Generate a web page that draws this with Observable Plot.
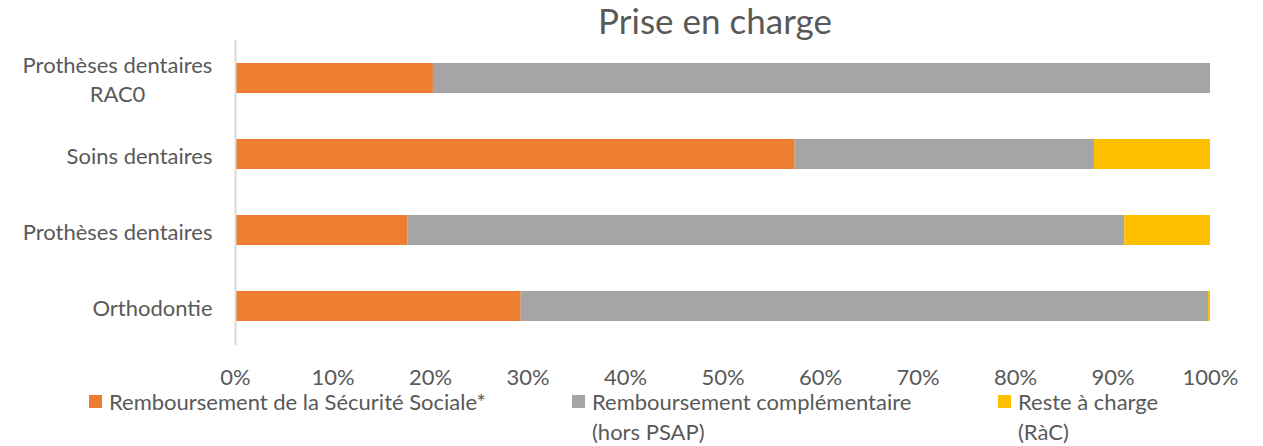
<!DOCTYPE html>
<html>
<head>
<meta charset="utf-8">
<script src="https://cdn.jsdelivr.net/npm/d3@7"></script>
<script src="https://cdn.jsdelivr.net/npm/@observablehq/plot@0.6"></script>
<style>
  html, body { margin: 0; padding: 0; background: #fff; overflow: hidden; }
  body { width: 1263px; height: 446px; position: relative; font-family: Lato, sans-serif; color: #595959; }
  #title { position: absolute; left: 0; top: 0; width: 1430px; height: 40px; line-height: 40px; text-align: center; font-size: 35px; }
  #chart { position: absolute; left: 0; top: 40px; }
  #legend { position: absolute; left: 89px; top: 387px; display: flex; font-size: 22px; line-height: 30px; }
  .item { display: flex; align-items: flex-start; }
  .sw { width: 13px; height: 13px; margin-top: 8px; margin-right: 7px; flex: none; }
</style>
</head>
<body>
<div id="title">Prise en charge</div>
<div id="chart"></div>
<div id="legend"></div>
<script>
const categories = ["Prothèses dentaires\nRAC0", "Soins dentaires", "Prothèses dentaires", "Orthodontie"];
const seriesNames = ["Remboursement de la Sécurité Sociale*", "Remboursement complémentaire\n(hors PSAP)", "Reste à charge\n(RàC)"];
const seriesColors = ["#ED7D31", "#A5A5A5", "#FFC000"];
const secuSociale = [20.3, 57.4, 17.7, 29.3];
const complementaire = [79.7, 30.7, 73.5, 70.5];
const resteACharge = [0, 11.9, 8.8, 0.2];
const xTicks = [0, 10, 20, 30, 40, 50, 60, 70, 80, 90, 100];

const seriesValues = [secuSociale, complementaire, resteACharge];
const data = [];
seriesNames.forEach((s, si) => {
  categories.forEach((c, ci) => data.push({category: c, series: s, value: seriesValues[si][ci]}));
});

const plot = Plot.plot({
  width: 1263,
  height: 356,
  marginLeft: 235,
  marginRight: 53,
  marginTop: 0,
  marginBottom: 51,
  style: {fontFamily: "Lato, sans-serif", fontSize: "22px", color: "#595959", background: "transparent", overflow: "visible"},
  x: {domain: [0, 100], ticks: xTicks, tickFormat: d => d + "%", label: null},
  y: {domain: categories, paddingInner: 0.6, paddingOuter: 0.3, label: null},
  color: {domain: seriesNames, range: seriesColors},
  marks: [
    Plot.barX(data, Plot.stackX({x: "value", y: "category", fill: "series", order: null})),
    Plot.ruleX([0], {stroke: "#D9D9D9", strokeWidth: 2}),
    Plot.axisX({ticks: xTicks, tickFormat: d => d + "%", tickSize: 0, tickPadding: 24, fill: "#595959", label: null}),
    Plot.axisY({tickSize: 0, tickPadding: 23, lineHeight: 1.32, fill: "#595959", label: null})
  ]
});
document.getElementById("chart").appendChild(plot);

// center multi-line category labels like the original
plot.querySelectorAll('g[aria-label="y-axis tick label"] text').forEach(t => {
  const spans = t.querySelectorAll("tspan");
  if (spans.length > 1) {
    const w = t.getBBox().width;
    t.setAttribute("text-anchor", "middle");
    spans.forEach(s => s.setAttribute("x", -w / 2));
  }
});

const legend = document.getElementById("legend");
const itemWidths = [483, 426, 200];
seriesNames.forEach((s, i) => {
  const item = document.createElement("div");
  item.className = "item";
  item.style.width = itemWidths[i] + "px";
  const sw = document.createElement("div");
  sw.className = "sw";
  sw.style.background = seriesColors[i];
  const label = document.createElement("div");
  label.innerHTML = s.split("\n").join("<br>");
  item.appendChild(sw);
  item.appendChild(label);
  legend.appendChild(item);
});
</script>
</body>
</html>
